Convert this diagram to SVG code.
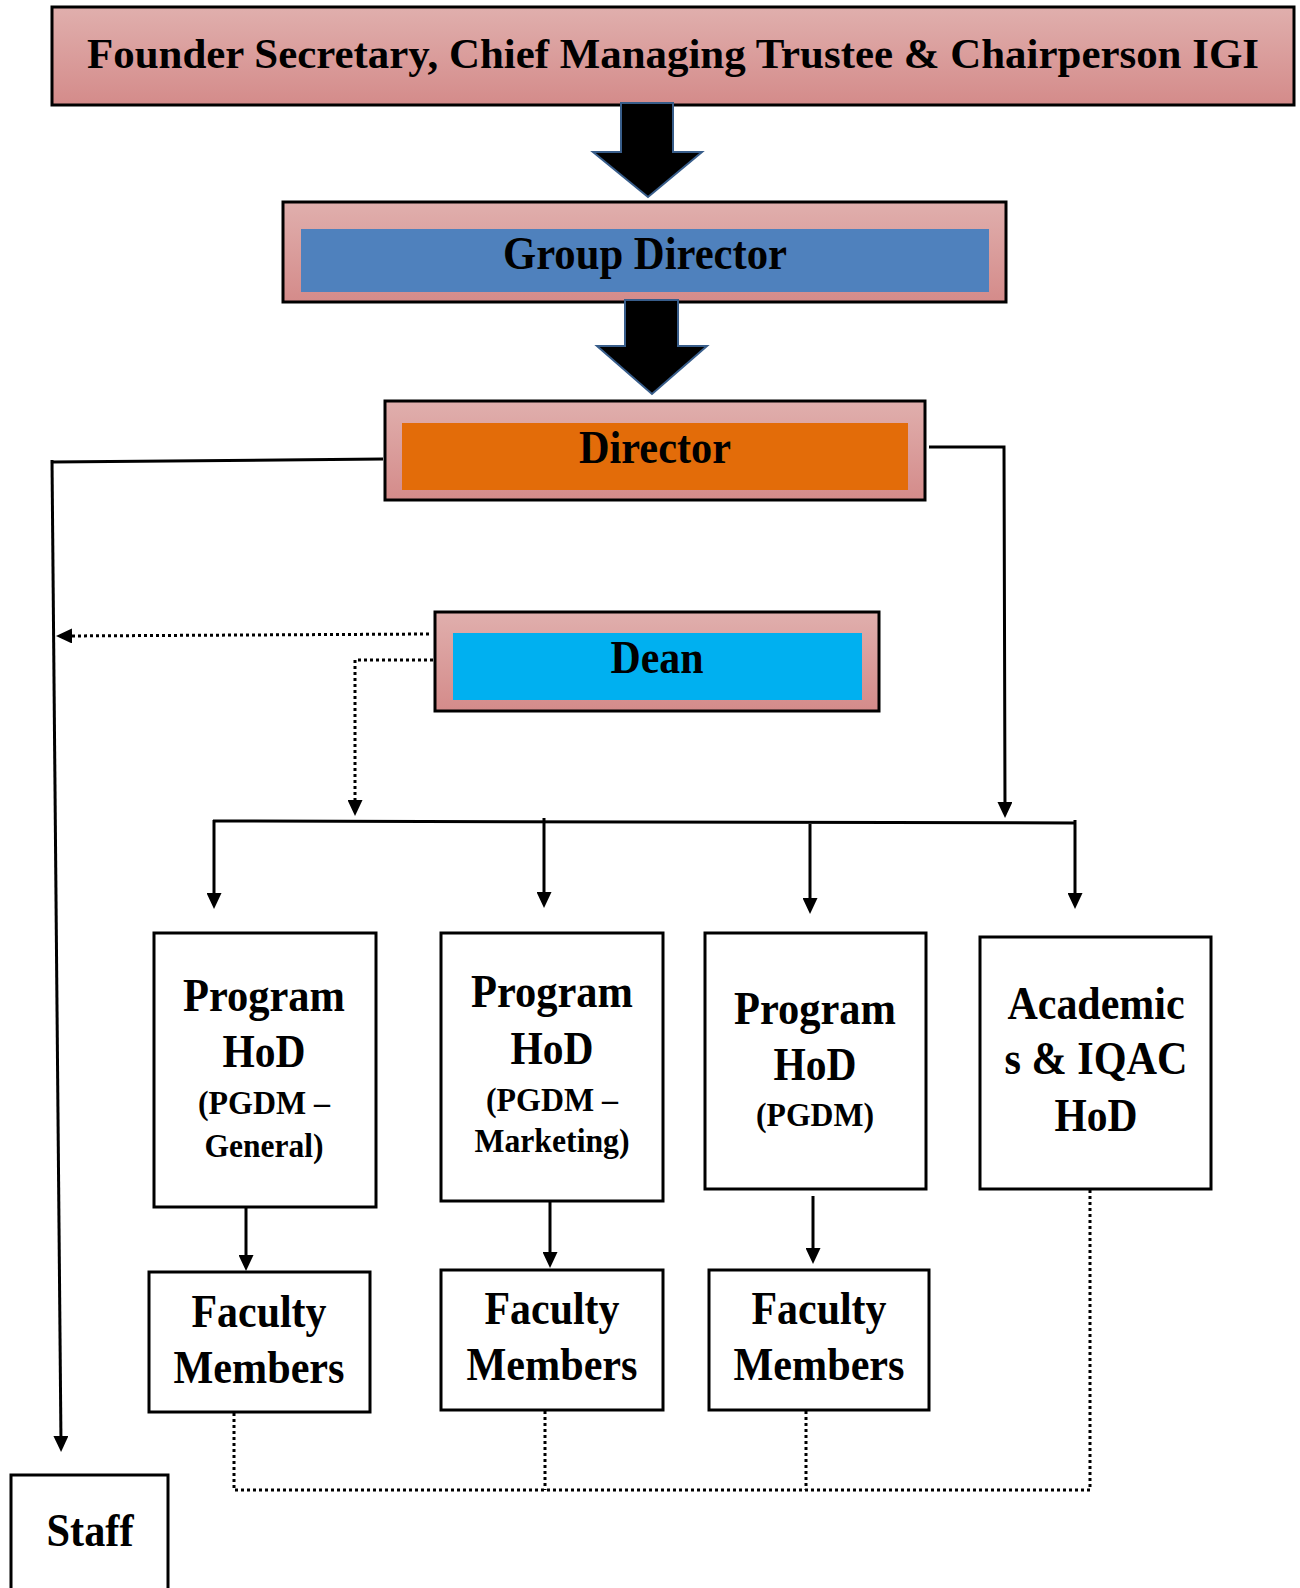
<svg xmlns="http://www.w3.org/2000/svg" width="1300" height="1588" viewBox="0 0 1300 1588">
<defs>
<linearGradient id="pink" x1="0" y1="0" x2="0" y2="1">
<stop offset="0" stop-color="#e0afad"/>
<stop offset="1" stop-color="#d48b8a"/>
</linearGradient>
<marker id="ah" viewBox="0 0 16 15" refX="8" refY="7.5" markerWidth="16" markerHeight="15" markerUnits="userSpaceOnUse" orient="auto">
<path d="M0,0 L16,7.5 L0,15 z" fill="#000"/>
</marker>
</defs>
<style>
.frame{fill:url(#pink);stroke:#000;stroke-width:3}
.box{fill:#fff;stroke:#000;stroke-width:3}
.t{font-family:"Liberation Serif","Times New Roman",serif;font-weight:bold;fill:#000;text-anchor:middle}
.big{font-size:46px}
.title{font-size:43px}
.small{font-size:33px}
.ln{fill:none;stroke:#000;stroke-width:3}
.dot{fill:none;stroke:#000;stroke-width:3;stroke-dasharray:3 3}
.arr{marker-end:url(#ah)}
.blk{fill:#000;stroke:#385d8a;stroke-width:2}
</style>

<g id="founder">
<rect class="frame" x="52" y="7" width="1242" height="98"/>
<text class="t title" x="673" y="68" textLength="1172" lengthAdjust="spacingAndGlyphs">Founder Secretary, Chief Managing Trustee &amp; Chairperson IGI</text>
</g>

<g id="group-director">
<rect class="frame" x="283" y="202" width="723" height="100"/>
<rect x="301" y="229" width="688" height="63" fill="#4f81bd"/>
<text class="t big" x="645" y="269" textLength="284" lengthAdjust="spacingAndGlyphs">Group Director</text>
</g>

<g id="director">
<rect class="frame" x="385" y="401" width="540" height="99"/>
<rect x="402" y="423" width="506" height="67" fill="#e36c09"/>
<text class="t big" x="655" y="463" textLength="152" lengthAdjust="spacingAndGlyphs">Director</text>
</g>

<g id="dean">
<rect class="frame" x="435" y="612" width="444" height="99"/>
<rect x="453" y="633" width="409" height="67" fill="#00b0f0"/>
<text class="t big" x="657" y="673" textLength="93" lengthAdjust="spacingAndGlyphs">Dean</text>
</g>

<g id="hod-general">
<rect class="box" x="154" y="933" width="222" height="274"/>
<text class="t big" x="264" y="1011" textLength="162" lengthAdjust="spacingAndGlyphs">Program</text>
<text class="t big" x="264" y="1067" textLength="83" lengthAdjust="spacingAndGlyphs">HoD</text>
<text class="t small" x="264" y="1114" textLength="132" lengthAdjust="spacingAndGlyphs">(PGDM –</text>
<text class="t small" x="264" y="1157" textLength="119" lengthAdjust="spacingAndGlyphs">General)</text>
</g>

<g id="hod-marketing">
<rect class="box" x="441" y="933" width="222" height="268"/>
<text class="t big" x="552" y="1007" textLength="162" lengthAdjust="spacingAndGlyphs">Program</text>
<text class="t big" x="552" y="1064" textLength="83" lengthAdjust="spacingAndGlyphs">HoD</text>
<text class="t small" x="552" y="1111" textLength="132" lengthAdjust="spacingAndGlyphs">(PGDM –</text>
<text class="t small" x="552" y="1152" textLength="155" lengthAdjust="spacingAndGlyphs">Marketing)</text>
</g>

<g id="hod-pgdm">
<rect class="box" x="705" y="933" width="221" height="256"/>
<text class="t big" x="815" y="1024" textLength="162" lengthAdjust="spacingAndGlyphs">Program</text>
<text class="t big" x="815" y="1080" textLength="83" lengthAdjust="spacingAndGlyphs">HoD</text>
<text class="t small" x="815" y="1126" textLength="118" lengthAdjust="spacingAndGlyphs">(PGDM)</text>
</g>

<g id="hod-academics">
<rect class="box" x="980" y="937" width="231" height="252"/>
<text class="t big" x="1096" y="1019" textLength="177" lengthAdjust="spacingAndGlyphs">Academic</text>
<text class="t big" x="1096" y="1074" textLength="183" lengthAdjust="spacingAndGlyphs">s &amp; IQAC</text>
<text class="t big" x="1096" y="1131" textLength="83" lengthAdjust="spacingAndGlyphs">HoD</text>
</g>

<g id="faculty-1">
<rect class="box" x="149" y="1272" width="221" height="140"/>
<text class="t big" x="259" y="1327" textLength="135" lengthAdjust="spacingAndGlyphs">Faculty</text>
<text class="t big" x="259" y="1383" textLength="171" lengthAdjust="spacingAndGlyphs">Members</text>
</g>

<g id="faculty-2">
<rect class="box" x="441" y="1270" width="222" height="140"/>
<text class="t big" x="552" y="1324" textLength="135" lengthAdjust="spacingAndGlyphs">Faculty</text>
<text class="t big" x="552" y="1380" textLength="171" lengthAdjust="spacingAndGlyphs">Members</text>
</g>

<g id="faculty-3">
<rect class="box" x="709" y="1270" width="220" height="140"/>
<text class="t big" x="819" y="1324" textLength="135" lengthAdjust="spacingAndGlyphs">Faculty</text>
<text class="t big" x="819" y="1380" textLength="171" lengthAdjust="spacingAndGlyphs">Members</text>
</g>

<g id="staff">
<rect class="box" x="11" y="1475" width="157" height="130"/>
<text class="t big" x="90" y="1546" textLength="87" lengthAdjust="spacingAndGlyphs">Staff</text>
</g>

<g id="connectors">
<polygon class="blk" points="621,103 673,103 673,152 702,152 648,197 593,152 621,152"/>
<polygon class="blk" points="625,300 678,300 678,346 707,346 652,394 597,346 625,346"/>

<polyline class="ln" points="383,459 52,462"/>
<line class="ln arr" x1="52" y1="460" x2="61" y2="1444"/>

<polyline class="ln arr" points="929,447 1004,447 1005,810"/>

<line class="dot arr" x1="429" y1="634" x2="64" y2="636"/>
<polyline class="dot arr" points="433,660 355,660 355,808"/>

<line class="ln" x1="213" y1="821" x2="1076" y2="823"/>
<line class="ln arr" x1="214" y1="820" x2="214" y2="901"/>
<line class="ln arr" x1="544" y1="818" x2="544" y2="900"/>
<line class="ln arr" x1="810" y1="824" x2="810" y2="906"/>
<line class="ln arr" x1="1075" y1="820" x2="1075" y2="901"/>

<line class="ln arr" x1="246" y1="1207" x2="246" y2="1263"/>
<line class="ln arr" x1="550" y1="1201" x2="550" y2="1260"/>
<line class="ln arr" x1="813" y1="1196" x2="813" y2="1256"/>

<polyline class="dot" points="234,1413 234,1490 1090,1490 1090,1189"/>
<line class="dot" x1="545" y1="1411" x2="545" y2="1490"/>
<line class="dot" x1="806" y1="1411" x2="806" y2="1490"/>
</g>
</svg>
